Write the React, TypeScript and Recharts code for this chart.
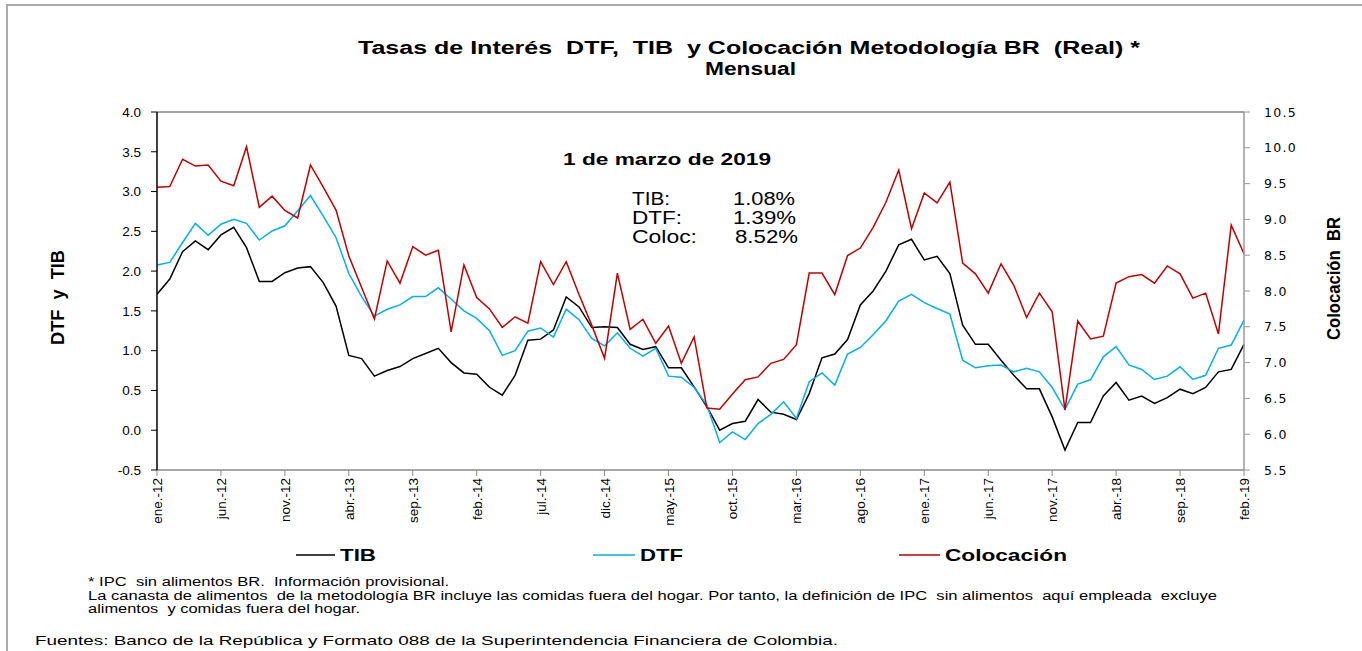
import React from 'react';
import { LineChart, Line, XAxis, YAxis, Legend, ReferenceLine } from 'recharts';

// Meses ene.-12 a feb.-19
const MESES = ['ene.', 'feb.', 'mar.', 'abr.', 'may.', 'jun.', 'jul.', 'ago.', 'sep.', 'oct.', 'nov.', 'dic.'];
const ANIOS = ['12', '13', '14', '15', '16', '17', '18', '19'];
const categorias: string[] = [];
ANIOS.forEach((a) => MESES.forEach((m) => categorias.push(`${m}-${a}`)));
categorias.splice(86);

const tib = [
  1.71, 1.9, 2.245, 2.38, 2.27, 2.455, 2.55, 2.295, 1.87, 1.87, 1.98, 2.04,
  2.056, 1.855, 1.56, 0.94, 0.9, 0.68, 0.75, 0.8, 0.9, 0.965, 1.03, 0.85,
  0.72, 0.705, 0.54, 0.44, 0.69, 1.13, 1.145, 1.26, 1.675, 1.55, 1.29, 1.3,
  1.29, 1.08, 1.015, 1.05, 0.785, 0.785, 0.545, 0.295, 0.0, 0.084, 0.113, 0.386,
  0.227, 0.2, 0.134, 0.46, 0.91, 0.957, 1.14, 1.574, 1.75, 2.0, 2.33, 2.4,
  2.14, 2.186, 1.97, 1.32, 1.08, 1.08, 0.88, 0.69, 0.52, 0.52, 0.168, -0.25,
  0.097, 0.097, 0.43, 0.6, 0.378, 0.43, 0.336, 0.41, 0.516, 0.46, 0.537, 0.734,
  0.764, 1.08,
];

const dtf = [
  2.077, 2.11, 2.36, 2.6, 2.45, 2.59, 2.65, 2.6, 2.39, 2.505, 2.57, 2.76,
  2.95, 2.69, 2.42, 1.97, 1.68, 1.435, 1.52, 1.575, 1.68, 1.68, 1.79, 1.65,
  1.5, 1.405, 1.25, 0.94, 1.0, 1.245, 1.285, 1.17, 1.52, 1.39, 1.155, 1.06,
  1.225, 1.03, 0.93, 1.03, 0.68, 0.667, 0.537, 0.315, -0.155, -0.02, -0.117, 0.084,
  0.2, 0.357, 0.147, 0.61, 0.72, 0.567, 0.957, 1.04, 1.2, 1.376, 1.624, 1.708,
  1.603, 1.53, 1.46, 0.88, 0.785, 0.81, 0.82, 0.734, 0.78, 0.734, 0.537, 0.26,
  0.58, 0.634, 0.923, 1.05, 0.82, 0.764, 0.638, 0.68, 0.797, 0.638, 0.69, 1.03,
  1.07, 1.385,
];

const colocacion = [
  9.45, 9.46, 9.84, 9.745, 9.76, 9.535, 9.47, 10.015, 9.17, 9.325, 9.125, 9.02,
  9.76, 9.45, 9.13, 8.49, 8.05, 7.61, 8.42, 8.11, 8.62, 8.5, 8.57, 7.43,
  8.365, 7.91, 7.75, 7.49, 7.64, 7.55, 8.41, 8.09, 8.41, 7.95, 7.52, 7.06,
  8.25, 7.465, 7.605, 7.27, 7.51, 6.99, 7.36, 6.365, 6.35, 6.56, 6.76, 6.8,
  6.99, 7.045, 7.25, 8.25, 8.25, 7.95, 8.495, 8.6, 8.89, 9.24, 9.69, 8.87,
  9.37, 9.23, 9.52, 8.39, 8.24, 7.97, 8.38, 8.08, 7.63, 7.97, 7.71, 6.34,
  7.58, 7.33, 7.37, 8.11, 8.2, 8.23, 8.11, 8.35, 8.24, 7.9, 7.97, 7.4,
  8.92, 8.52,
];

const ticksIzq = [-0.5, 0, 0.5, 1, 1.5, 2, 2.5, 3, 3.5, 4];
const ticksDer = [5.5, 6, 6.5, 7, 7.5, 8, 8.5, 9, 9.5, 10, 10.5];

const FONT = '"Liberation Sans", Arial, sans-serif';

const rows = categorias.map((mes, i) => ({
  mes,
  tib: tib[i],
  dtf: dtf[i],
  colocacion: colocacion[i],
}));

const MesTick = (props: any) => {
  const { x, y, payload } = props;
  const bx = x + 5;
  return (
    <text
      x={bx}
      y={y}
      transform={`rotate(-90 ${bx} ${y})`}
      textAnchor="end"
      fontSize={13.5}
      fontFamily={FONT}
      fill="#000"
    >
      {payload.value}
    </text>
  );
};

const DerTick = (props: any) => {
  const { x, y, payload } = props;
  return (
    <text x={x} y={y} dy="0.36em" textAnchor="start" fontSize={12.5} fontFamily='"DejaVu Sans", sans-serif' letterSpacing={1.3} fill="#000">
      {payload.value.toFixed(1)}
    </text>
  );
};

// posiciones de la leyenda: linea inicio, linea fin, texto inicio, ancho texto
const legendPos: Record<string, number[]> = {
  TIB: [296, 335, 340, 36],
  DTF: [593, 635, 640, 43],
  'Colocación': [899, 940, 945, 122],
};

const Leyenda = (props: any) => {
  const items = props.payload || [];
  return (
    <svg width={1362} height={30} style={{ display: 'block' }}>
      {items.map((it: any) => {
        const p = legendPos[it.value];
        if (!p) return null;
        return (
          <g key={it.value}>
            <line x1={p[0]} x2={p[1]} y1={15} y2={15} stroke={it.color} strokeWidth={1.5} />
            <text x={p[2]} y={21} fontSize={16.5} fontWeight="bold" fontFamily={FONT} textLength={p[3]} lengthAdjust="spacingAndGlyphs" fill="#000">
              {it.value}
            </text>
          </g>
        );
      })}
    </svg>
  );
};

const T = ({ x, y, len, size, bold, children, rot }: any) => (
  <text
    x={x}
    y={y}
    fontSize={size}
    fontWeight={bold ? 'bold' : 'normal'}
    fontFamily={FONT}
    textLength={len}
    lengthAdjust="spacingAndGlyphs"
    transform={rot ? `rotate(-90 ${x} ${y})` : undefined}
    style={{ whiteSpace: 'pre' }}
    fill="#000"
  >
    {children}
  </text>
);

export default function App() {
  return (
    <div style={{ position: 'absolute', left: 0, top: 0, width: 1362, height: 651, background: '#fff', fontFamily: FONT }}>
      <LineChart width={1362} height={651} data={rows} margin={{ top: 112, right: 58, bottom: 121, left: 97 }}>
        <XAxis
          dataKey="mes"
          scale="point"
          interval={4}
          height={60}
          tick={<MesTick />}
          tickSize={6}
          tickLine={{ stroke: '#888' }}
          axisLine={{ stroke: '#888', strokeWidth: 1.5 }}
        />
        <YAxis
          yAxisId="izq"
          domain={[-0.5, 4]}
          ticks={ticksIzq}
          width={60}
          tickFormatter={(v: number) => v.toFixed(1)}
          tick={{ fill: '#000', fontSize: 13.5, fontFamily: FONT }}
          tickSize={6}
          tickMargin={10}
          tickLine={{ stroke: '#000' }}
          axisLine={{ stroke: '#000', strokeWidth: 1.5 }}
        />
        <YAxis
          yAxisId="der"
          orientation="right"
          domain={[5.5, 10.5]}
          ticks={ticksDer}
          width={60}
          tick={<DerTick />}
          tickSize={6}
          tickMargin={14}
          tickLine={{ stroke: '#999' }}
          axisLine={{ stroke: '#999', strokeWidth: 1.5 }}
        />
        <ReferenceLine yAxisId="izq" y={4} stroke="#444" strokeWidth={1} />
        <Line yAxisId="izq" dataKey="tib" name="TIB" stroke="#000000" strokeWidth={1.5} dot={false} isAnimationActive={false} />
        <Line yAxisId="izq" dataKey="dtf" name="DTF" stroke="#00B0F0" strokeWidth={1.5} dot={false} isAnimationActive={false} />
        <Line yAxisId="der" dataKey="colocacion" name="Colocación" stroke="#C00000" strokeWidth={1.5} dot={false} isAnimationActive={false} />
        <Legend
          layout="horizontal"
          verticalAlign="middle"
          align="center"
          content={<Leyenda />}
          wrapperStyle={{ position: 'absolute', left: 0, top: 540, width: 1362, height: 30 }}
        />
      </LineChart>

      <svg width={1362} height={651} style={{ position: 'absolute', left: 0, top: 0, pointerEvents: 'none' }}>
        <line x1={6} x2={1362} y1={5} y2={5} stroke="#aaa" strokeWidth={2} />
        <line x1={7} x2={7} y1={5} y2={651} stroke="#aaa" strokeWidth={2} />

        <T x={358} y={54} len={782} size={18} bold>
          {'Tasas de Interés  DTF,  TIB  y Colocación Metodología BR  (Real) *'}
        </T>
        <T x={705} y={75} len={91} size={18} bold>Mensual</T>

        <T x={563} y={165} len={208} size={17} bold>1 de marzo de 2019</T>
        <T x={632} y={205} len={38} size={18}>TIB:</T>
        <T x={733} y={205} len={62} size={18}>1.08%</T>
        <T x={632} y={224} len={50} size={18}>DTF:</T>
        <T x={733} y={224} len={63} size={18}>1.39%</T>
        <T x={632} y={243} len={65} size={18}>Coloc:</T>
        <T x={735} y={243} len={63} size={18}>8.52%</T>

        <T x={64} y={345} len={95} size={18} bold rot>{'DTF  y  TIB'}</T>
        <T x={1340} y={340} len={123} size={18} bold rot>{'Colocación  BR'}</T>

        <T x={88} y={586} len={361} size={12.5}>{'* IPC  sin alimentos BR.  Información provisional.'}</T>
        <T x={88} y={600} len={1129} size={12.5}>
          {'La canasta de alimentos  de la metodología BR incluye las comidas fuera del hogar. Por tanto, la definición de IPC  sin alimentos  aquí empleada  excluye'}
        </T>
        <T x={88} y={613} len={272} size={12.5}>{'alimentos  y comidas fuera del hogar.'}</T>
        <T x={35} y={645} len={803} size={13.5}>
          {'Fuentes: Banco de la República y Formato 088 de la Superintendencia Financiera de Colombia.'}
        </T>
      </svg>
    </div>
  );
}
